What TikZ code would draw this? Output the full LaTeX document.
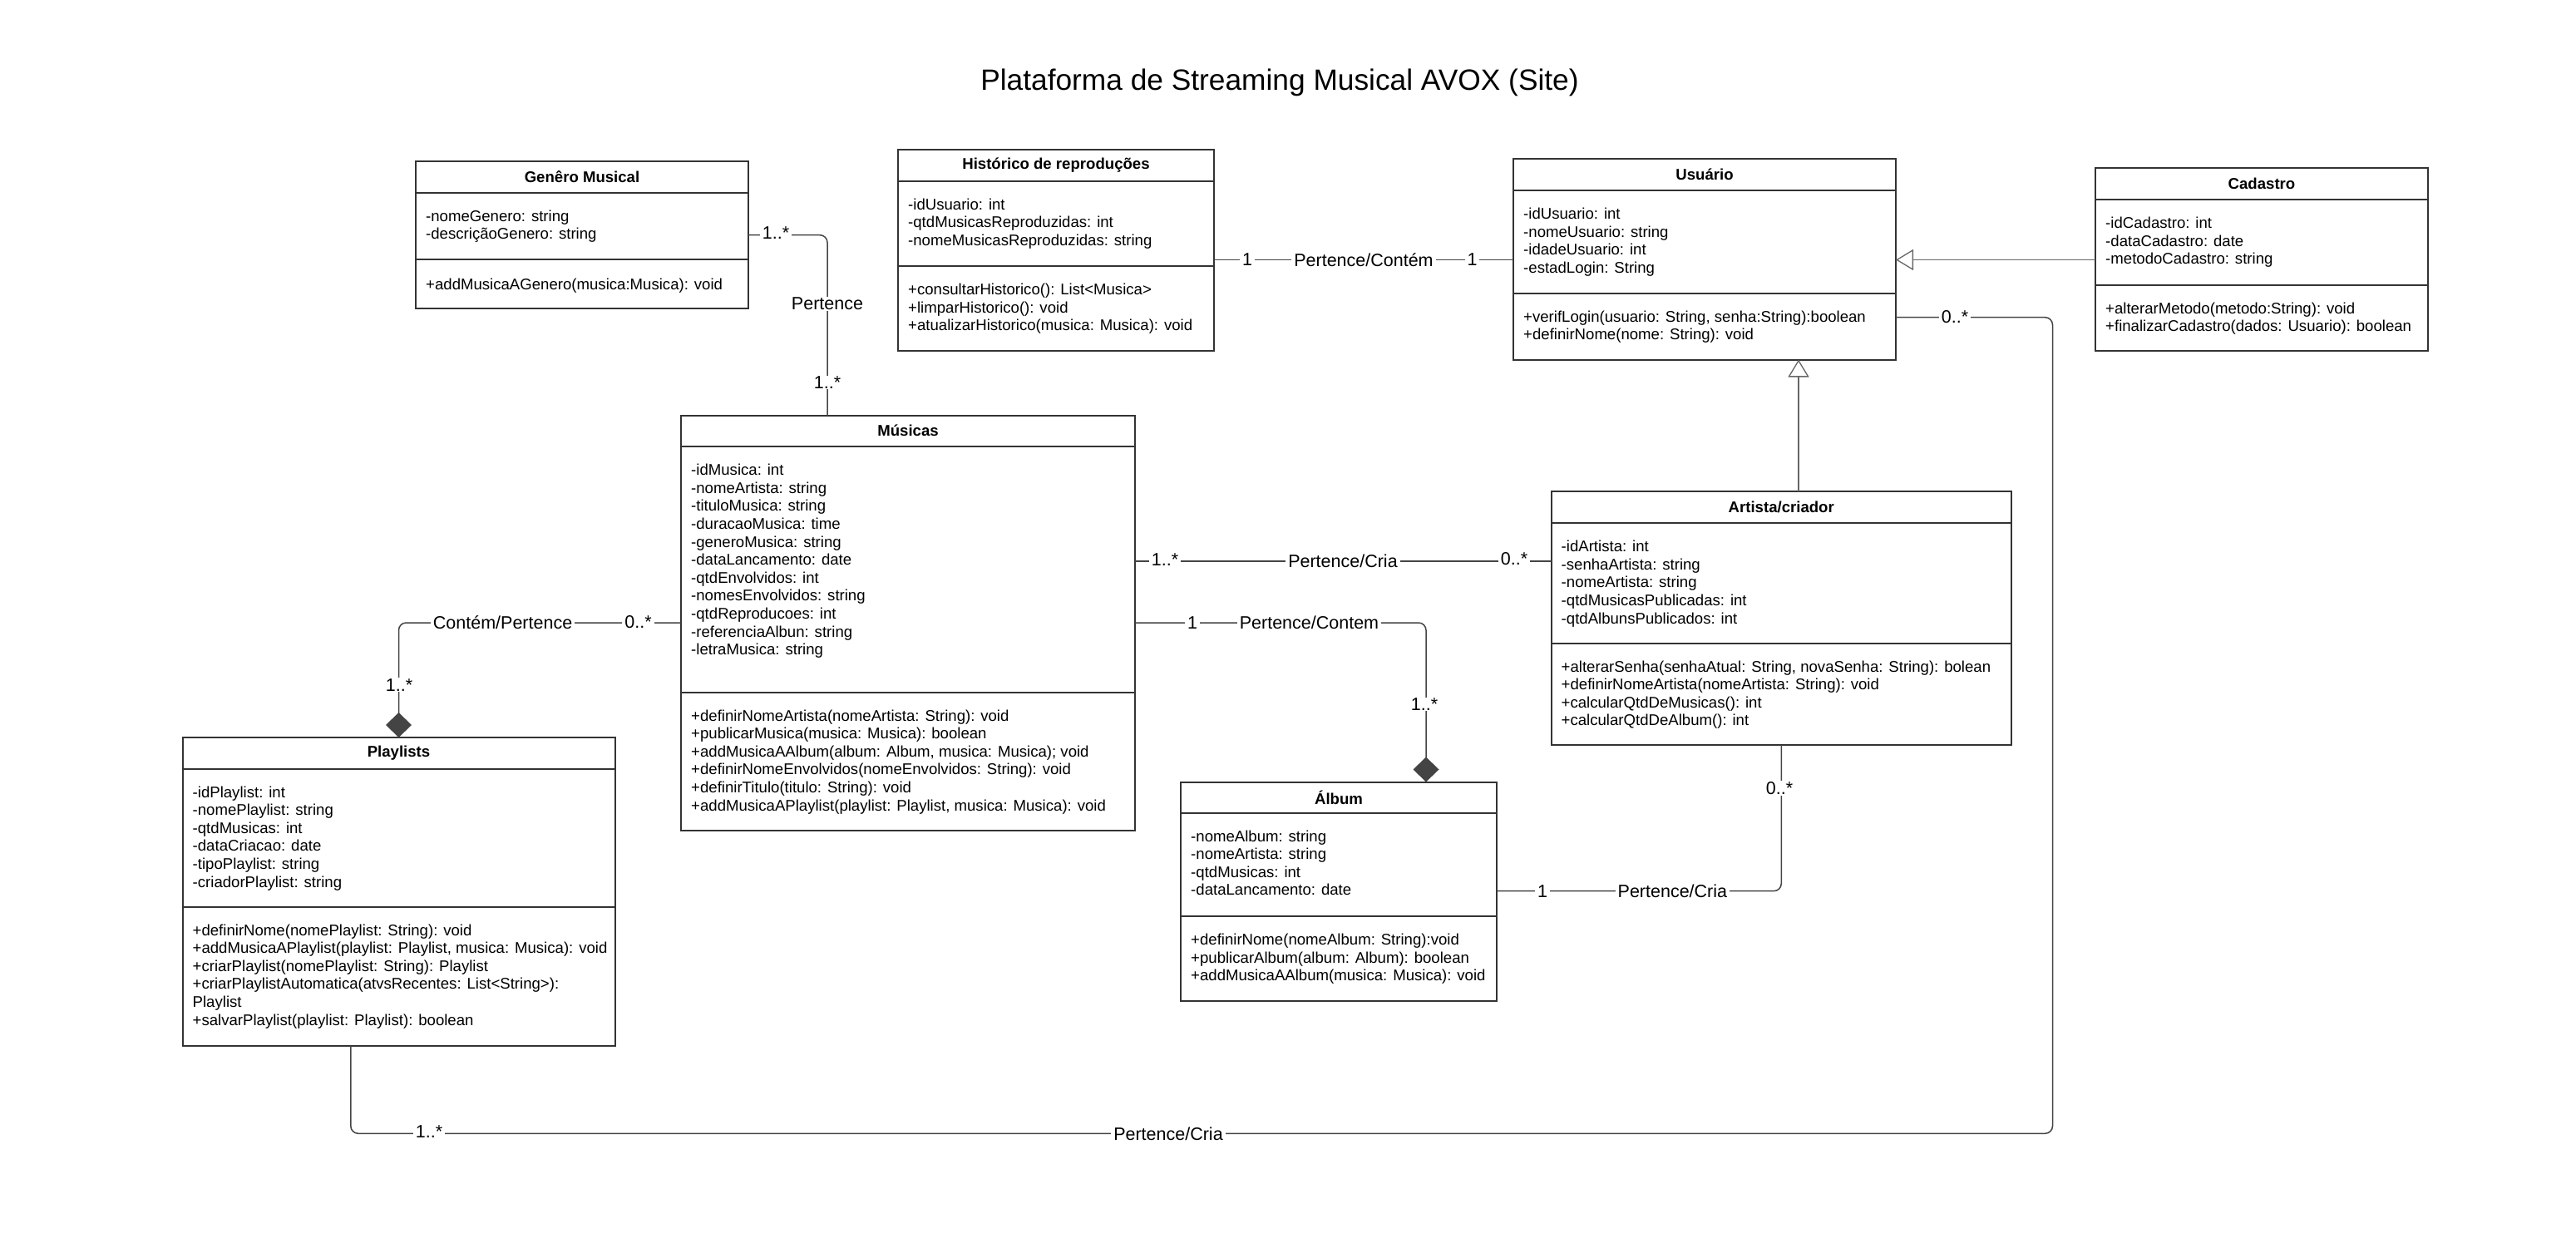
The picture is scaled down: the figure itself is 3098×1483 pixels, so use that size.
\documentclass[tikz,border=0pt]{standalone}
\usepackage{fontspec}
\setmainfont{Liberation Sans}
\usetikzlibrary{calc,arrows.meta}
\definecolor{boxc}{HTML}{333333}
\definecolor{linec}{HTML}{444444}
\definecolor{genc}{HTML}{666666}
\tikzset{
  hdr/.style={draw=boxc, line width=2pt, fill=white, outer sep=0pt, inner sep=0pt, anchor=north west,
    font=\bfseries\fontsize{18.6}{21.6}\selectfont},
  cmp/.style={draw=boxc, line width=2pt, fill=white, outer sep=0pt, inner sep=0pt, anchor=north west},
  txt/.style={anchor=north west, inner sep=0pt, align=left, execute at begin node=\strut,
    font=\fontsize{18.6}{21.6}\selectfont},
  assoc/.style={draw=linec, line width=1.5pt, rounded corners=9pt},
  genl/.style={draw=genc, line width=1.3pt, -{Triangle[length=21pt, width=25pt, fill=white]}},
  comp/.style={assoc, -{Diamond[length=30pt, width=31pt]}},
  lbl/.style={fill=white, inner xsep=3pt, inner ysep=1pt, font=\fontsize{21.5}{24}\selectfont},
  ttl/.style={font=\fontsize{35.3}{40}\selectfont}
}
% id, position, width, h-header, h-attrs, h-methods, title, attrs, methods
\newcommand\UMLclass[9]{%
  \node[hdr, minimum width=#3pt, minimum height=#4pt] (#1) at (#2) {#7};
  \node[cmp, minimum width=#3pt, minimum height=#5pt] (#1-a) at (#1.south west) {};
  \node[cmp, minimum width=#3pt, minimum height=#6pt] (#1-m) at (#1-a.south west) {};
  \node[txt] (#1-at) at ($(#1-a.north west)+(12,21)$) {#8};
  \node[txt] (#1-mt) at ($(#1-m.north west)+(12,21)$) {#9};
}
\begin{document}
\begin{tikzpicture}[x=1pt,y=-1pt]
\fill[white] (0,0) rectangle (3098,1483);
\path[use as bounding box] (0,0) rectangle (3098,1483);

\node[ttl] (title) at (1539,99) {Plataforma de Streaming Musical AVOX (Site)};

\UMLclass{gen}{500,194}{400}{37.5}{80.5}{59}{Genêro Musical}
  {-nomeGenero: string\\-descriçãoGenero: string}
  {+addMusicaAGenero(musica:Musica): void}

\UMLclass{his}{1080,180}{380}{37.5}{102.5}{101.5}{Histórico de reproduções}
  {-idUsuario: int\\-qtdMusicasReproduzidas: int\\-nomeMusicasReproduzidas: string}
  {+consultarHistorico(): List<Musica>\\+limparHistorico(): void\\+atualizarHistorico(musica: Musica): void}

\UMLclass{usu}{1820,191}{460}{38}{123.5}{80}{Usuário}
  {-idUsuario: int\\-nomeUsuario: string\\-idadeUsuario: int\\-estadLogin: String}
  {+verifLogin(usuario: String, senha:String):boolean\\+definirNome(nome: String): void}

\UMLclass{cad}{2520,201.5}{400}{38.5}{102.5}{79}{Cadastro}
  {-idCadastro: int\\-dataCadastro: date\\-metodoCadastro: string}
  {+alterarMetodo(metodo:String): void\\+finalizarCadastro(dados: Usuario): boolean}

\UMLclass{mus}{819,499.5}{546}{37.5}{295.5}{166}{Músicas}
  {-idMusica: int\\-nomeArtista: string\\-tituloMusica: string\\-duracaoMusica: time\\-generoMusica: string\\-dataLancamento: date\\-qtdEnvolvidos: int\\-nomesEnvolvidos: string\\-qtdReproducoes: int\\-referenciaAlbun: string\\-letraMusica: string}
  {+definirNomeArtista(nomeArtista: String): void\\+publicarMusica(musica: Musica): boolean\\+addMusicaAAlbum(album: Album, musica: Musica); void\\+definirNomeEnvolvidos(nomeEnvolvidos: String): void\\+definirTitulo(titulo: String): void\\+addMusicaAPlaylist(playlist: Playlist, musica: Musica): void}

\UMLclass{art}{1865.5,591}{553.5}{38}{144.5}{122.5}{Artista/criador}
  {-idArtista: int\\-senhaArtista: string\\-nomeArtista: string\\-qtdMusicasPublicadas: int\\-qtdAlbunsPublicados: int}
  {+alterarSenha(senhaAtual: String, novaSenha: String): bolean\\+definirNomeArtista(nomeArtista: String): void\\+calcularQtdDeMusicas(): int\\+calcularQtdDeAlbum(): int}

\UMLclass{pl}{219.5,887}{520}{37.5}{166}{167}{Playlists}
  {-idPlaylist: int\\-nomePlaylist: string\\-qtdMusicas: int\\-dataCriacao: date\\-tipoPlaylist: string\\-criadorPlaylist: string}
  {+definirNome(nomePlaylist: String): void\\+addMusicaAPlaylist(playlist: Playlist, musica: Musica): void\\+criarPlaylist(nomePlaylist: String): Playlist\\+criarPlaylistAutomatica(atvsRecentes: List<String>):\\Playlist\\+salvarPlaylist(playlist: Playlist): boolean}

\UMLclass{alb}{1420,940.5}{380}{37}{124.5}{101.5}{Álbum}
  {-nomeAlbum: string\\-nomeArtista: string\\-qtdMusicas: int\\-dataLancamento: date}
  {+definirNome(nomeAlbum: String):void\\+publicarAlbum(album: Album): boolean\\+addMusicaAAlbum(musica: Musica): void}

% connectors
\draw[assoc] ([yshift=-10.95pt]gen-a.east) -| ([xshift=-97pt]mus.north);
\draw[assoc] ([yshift=-43.75pt]his-a.east) -- ([yshift=-43.75pt]his-a.east -| usu-a.west);
\draw[genl] ([yshift=-21.25pt]cad-a.west) -- ([yshift=-21.25pt]cad-a.west -| usu-a.east);
\draw[genl] ([xshift=20.75pt]art.north) -- ([xshift=20.75pt]art.north |- usu-m.south);
\draw[assoc] ([yshift=9.75pt]mus-a.east) -- ([yshift=9.75pt]mus-a.east -| art-a.west);
\draw[comp] ([yshift=-64.25pt]mus-a.east) -| ([xshift=105pt]alb.north);
\draw[comp] ([yshift=-64.25pt]mus-a.west) -| (pl.north);
\draw[assoc] ([yshift=-31.95pt]alb-a.east) -| (art-m.south);
\draw[assoc] ([yshift=10.8pt]usu-m.east) -| (2468.5,1363.3) -| ([xshift=-57.7pt]pl-m.south);

% labels
\node[lbl] (l1a) at (933,280) {1..*};
\node[lbl] (l1b) at (995,365) {Pertence};
\node[lbl] (l1c) at (995,460) {1..*};
\node[lbl] (l2a) at (1500,312.5) {1};
\node[lbl] (l2b) at (1640,312.5) {Pertence/Contém};
\node[lbl] (l2c) at (1770.5,312.5) {1};
\node[lbl] (l5a) at (1401,673) {1..*};
\node[lbl] (l5b) at (1615,675) {Pertence/Cria};
\node[lbl] (l5c) at (1821,672) {0..*};
\node[lbl] (l6a) at (1434,749) {1};
\node[lbl] (l6b) at (1574.5,749) {Pertence/Contem};
\node[lbl] (l6c) at (1713,847) {1..*};
\node[lbl] (l7a) at (767.5,748) {0..*};
\node[lbl] (l7b) at (604.6,749) {Contém/Pertence};
\node[lbl] (l7c) at (480,823.6) {1..*};
\node[lbl] (l8a) at (1855,1071.7) {1};
\node[lbl] (l8b) at (2011.4,1071.7) {Pertence/Cria};
\node[lbl] (l8c) at (2140,948) {0..*};
\node[lbl] (l9a) at (2351,381) {0..*};
\node[lbl] (l9b) at (1405,1363.3) {Pertence/Cria};
\node[lbl] (l9c) at (516,1361) {1..*};
\end{tikzpicture}
\end{document}
